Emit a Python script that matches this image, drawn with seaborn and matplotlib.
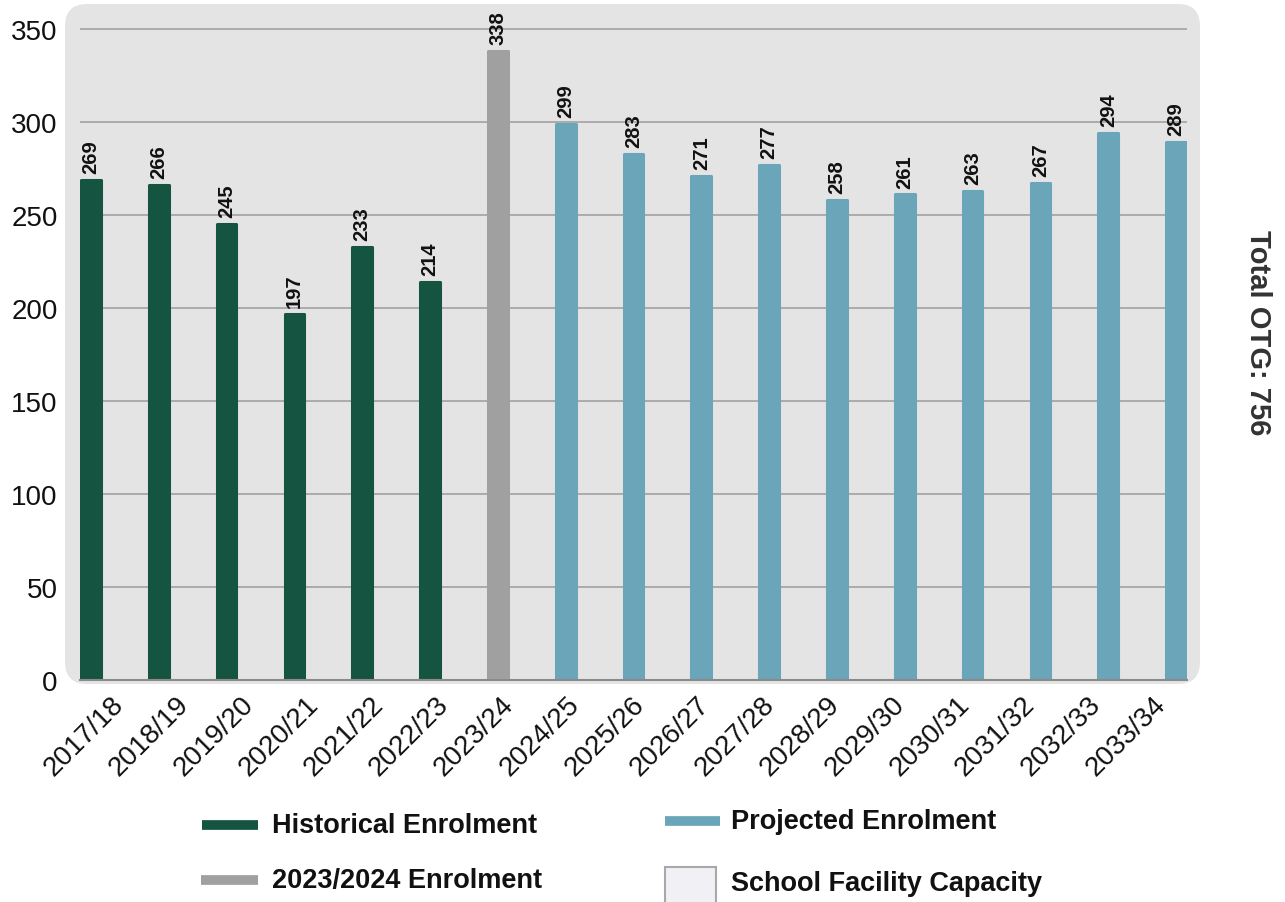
import matplotlib
matplotlib.use('Agg')
import matplotlib.pyplot as plt
import matplotlib.transforms as mtransforms
from matplotlib.patches import FancyBboxPatch, Rectangle
from matplotlib.lines import Line2D
import seaborn as sns

years = ['2017/18', '2018/19', '2019/20', '2020/21', '2021/22', '2022/23', '2023/24',
         '2024/25', '2025/26', '2026/27', '2027/28', '2028/29', '2029/30', '2030/31',
         '2031/32', '2032/33', '2033/34']
enrolment = [269, 266, 245, 197, 233, 214, 338,
             299, 283, 271, 277, 258, 261, 263, 267, 294, 289]
groups = ['Historical'] * 6 + ['Current'] + ['Projected'] * 10
colors = {'Historical': '#145440', 'Current': '#a0a0a0', 'Projected': '#6aa5ba'}
total_otg = 756

sns.set_style('white')
plt.rcParams['font.family'] = ['Liberation Sans', 'DejaVu Sans']

W, H = 1285, 903
fig = plt.figure(figsize=(W / 100, H / 100), dpi=100)

# rounded grey panel behind the plot (pixel coords)
bg = FancyBboxPatch((65, H - 685), 1200 - 65, 685 - 5,
                    boxstyle='round,pad=0,rounding_size=22',
                    transform=mtransforms.IdentityTransform(),
                    facecolor='#e4e4e4', edgecolor='none', zorder=-5)
fig.add_artist(bg)

ax = fig.add_axes([80 / W, 1 - 681 / H, (1187 - 80) / W, (681 - 5) / H])
ax.set_zorder(2)
ax.set_facecolor('none')
ax.patch.set_alpha(0)

sns.barplot(x=years, y=enrolment, hue=groups, palette=colors, dodge=False,
            width=0.29, saturation=1, legend=False, ax=ax, zorder=3)

for p in ax.patches:
    p.set_edgecolor(p.get_facecolor())
    p.set_linewidth(2.2)
    p.set_joinstyle('round')

for c in ax.containers:
    ax.bar_label(c, rotation=90, padding=5, fontsize=14.5, fontweight='bold',
                 color='#111111')

ax.set_ylim(0, 363.4)
ax.set_xlim(-0.16, 16.16)
ax.set_yticks(range(0, 351, 50))
ax.yaxis.grid(True, color='#ababab', linewidth=1.4, zorder=1)
ax.set_axisbelow(True)
for s in ['top', 'right', 'left']:
    ax.spines[s].set_visible(False)
ax.spines['bottom'].set_color('#8a8a8a')
ax.spines['bottom'].set_linewidth(1.5)
ax.spines['bottom'].set_zorder(4)
ax.tick_params(axis='y', length=0, labelsize=20, pad=16, labelcolor='#111111')
ax.tick_params(axis='x', length=0, labelsize=20, pad=8, labelcolor='#111111')
# the category labels sit on a slightly tighter pitch than the bars
for i, lbl in enumerate(ax.get_xticklabels()):
    shift = mtransforms.ScaledTranslation((-7 - 2.7 * i) / 100, 0, fig.dpi_scale_trans)
    lbl.set_rotation(45)
    lbl.set_ha('center')
    lbl.set_transform(lbl.get_transform() + shift)
ax.set_xlabel('')
ax.set_ylabel('')

fig.text(1258 / W, 1 - 333 / H, f'Total OTG: {total_otg}', rotation=-90,
         ha='center', va='center', fontsize=21, fontweight='bold', color='#333333')

# legend
def px(x, y):
    return x / W, 1 - y / H

legend_items = [
    (colors['Historical'], 202, 258, 826, 272, 'Historical Enrolment'),
    (colors['Projected'], 665, 720, 822, 731, 'Projected Enrolment'),
    (colors['Current'], 201, 258, 881, 272, '2023/2024 Enrolment'),
]
for col, x0, x1, y, tx, label in legend_items:
    (fx0, fy), (fx1, _) = px(x0, y), px(x1, y)
    fig.add_artist(Line2D([fx0, fx1], [fy, fy], color=col, linewidth=7,
                          solid_capstyle='butt', transform=fig.transFigure))
    fig.text(*px(tx, y), label, ha='left', va='center', fontsize=19.5,
             fontweight='bold', color='#111111')

fig.add_artist(Rectangle(px(665, 905), 51 / W, 37 / H, transform=fig.transFigure,
                         facecolor='#f0f0f5', edgecolor='#a8a8a8', linewidth=1.5))
fig.text(*px(731, 884), 'School Facility Capacity', ha='left', va='center',
         fontsize=19.5, fontweight='bold', color='#111111')

fig.savefig('out.png', dpi=100)
